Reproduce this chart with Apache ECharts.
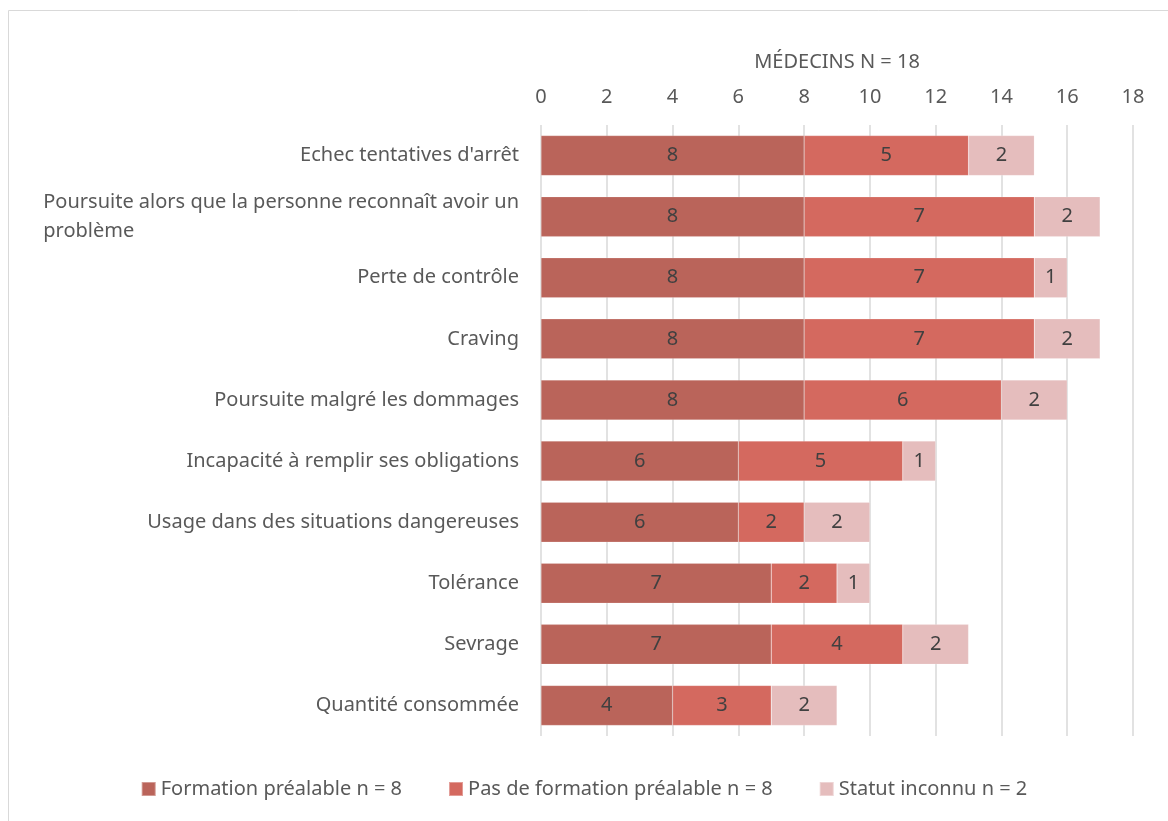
<!DOCTYPE html>
<html>
<head>
<meta charset="utf-8">
<script src="https://cdn.jsdelivr.net/npm/echarts@6/dist/echarts.min.js"></script>
<style>
  html, body { margin: 0; padding: 0; background: #fff; }
  #chart { width: 1168px; height: 821px; }
</style>
</head>
<body>
<div id="chart"></div>
<script>
const categories = [
  "Echec tentatives d'arrêt",
  "Poursuite alors que la personne reconnaît avoir un\nproblème",
  "Perte de contrôle",
  "Craving",
  "Poursuite malgré les dommages",
  "Incapacité à remplir ses obligations",
  "Usage dans des situations dangereuses",
  "Tolérance",
  "Sevrage",
  "Quantité consommée"
];
const formationPrealable = [8, 8, 8, 8, 8, 6, 6, 7, 7, 4];
const pasDeFormation = [5, 7, 7, 7, 6, 5, 2, 2, 4, 3];
const statutInconnu = [2, 2, 1, 2, 2, 1, 2, 1, 2, 2];
const seriesNames = [
  "Formation préalable n = 8",
  "Pas de formation préalable n = 8",
  "Statut inconnu n = 2"
];
const axisTitle = "MÉDECINS N = 18";

const FONT = "Noto Sans";
const FS = 20;
const chart = echarts.init(document.getElementById("chart"));

function seg(name, data, color) {
  return {
    name: name,
    type: "bar",
    stack: "total",
    data: data,
    barWidth: 40,
    itemStyle: { color: color, borderColor: "rgba(255,255,255,0.35)", borderWidth: 0.5 },
    label: {
      show: true,
      position: "inside",
      color: "#404040",
      fontFamily: FONT,
      fontSize: FS
    },
    emphasis: { disabled: true }
  };
}

chart.setOption({
  animation: false,
  textStyle: { fontFamily: FONT },
  graphic: [{
    type: "rect",
    shape: { x: 8.5, y: 10.5, width: 1200, height: 900 },
    style: { fill: "none", stroke: "#d9d9d9", lineWidth: 1 },
    silent: true
  }],
  grid: { left: 541, right: 35, top: 125, bottom: 85 },
  legend: {
    bottom: 17,
    left: "center",
    itemWidth: 14,
    itemHeight: 14,
    itemGap: 46,
    icon: "rect",
    textStyle: { color: "#595959", fontFamily: FONT, fontSize: FS },
    data: seriesNames
  },
  xAxis: {
    type: "value",
    position: "top",
    min: 0,
    max: 18,
    interval: 2,
    name: axisTitle,
    nameLocation: "middle",
    nameGap: 53,
    nameTextStyle: { color: "#595959", fontSize: FS, fontFamily: FONT },
    axisLine: { show: false },
    axisTick: { show: false },
    axisLabel: { color: "#595959", fontSize: FS, fontFamily: FONT, margin: 18 },
    splitLine: { show: true, lineStyle: { color: "#d9d9d9", width: 1.5 } }
  },
  yAxis: {
    type: "category",
    inverse: true,
    data: categories,
    axisLine: { show: false },
    axisTick: { show: false },
    axisLabel: {
      color: "#595959",
      fontSize: FS,
      fontFamily: FONT,
      margin: 22,
      formatter: function (v) {
        if (v.indexOf("\n") < 0) return v;
        return v.split("\n").map(function (l) { return "{l|" + l + "}"; }).join("\n");
      },
      rich: {
        l: { align: "left", color: "#595959", fontSize: FS, fontFamily: FONT, lineHeight: 29 }
      }
    }
  },
  series: [
    seg(seriesNames[0], formationPrealable, "#BA645A"),
    seg(seriesNames[1], pasDeFormation, "#D4695F"),
    seg(seriesNames[2], statutInconnu, "#E5BDBD")
  ]
});
</script>
</body>
</html>
